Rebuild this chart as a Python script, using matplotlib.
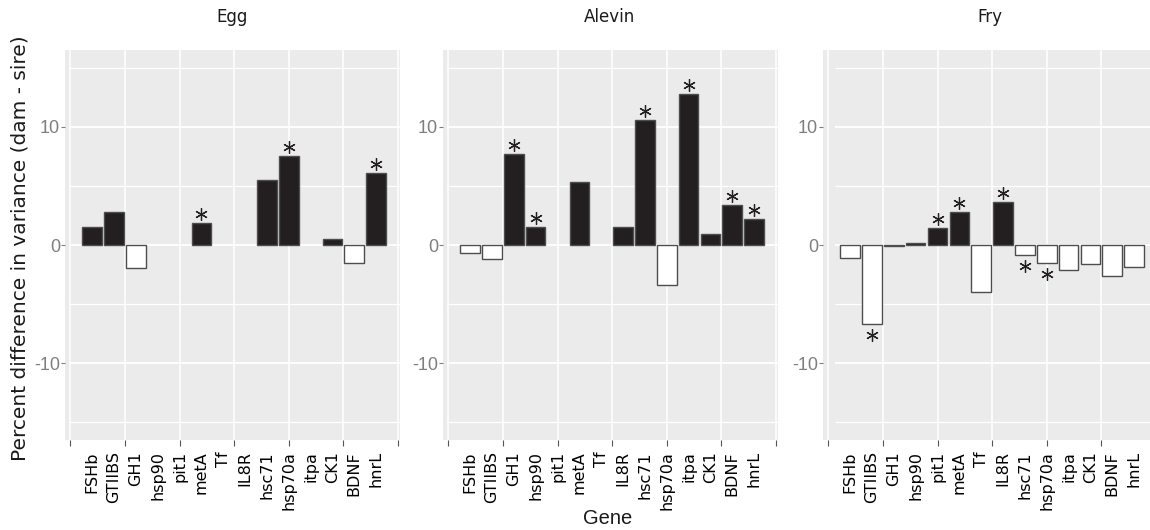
import numpy as np
import matplotlib
matplotlib.use('Agg')
from matplotlib import pyplot as plt

# Datos: diferencia porcentual en la varianza (dam - sire) por gen y etapa
genes = ['FSHb', 'GTIIBS', 'GH1', 'hsp90', 'pit1', 'metA', 'Tf', 'IL8R',
         'hsc71', 'hsp70a', 'itpa', 'CK1', 'BDNF', 'hnrL']
stages = ['Egg', 'Alevin', 'Fry']

egg = [1.55, 2.8, -1.97, 0, 0, 1.89, 0, 0, 5.49, 7.52, 0, 0.51, -1.55, 6.08]
alevin = [-0.65, -1.16, 7.67, 1.53, 0, 5.37, 0, 1.53, 10.6, -3.41, 12.78, 0.94, 3.41, 2.22]
fry = [-1.07, -6.72, -0.1, 0.14, 1.44, 2.8, -3.95, 3.64, -0.88, -1.53, -2.12, -1.58, -2.63, -1.86]

egg_sig = [0, 0, 0, 0, 0, 1, 0, 0, 0, 1, 0, 0, 0, 1]
alevin_sig = [0, 0, 1, 1, 0, 0, 0, 0, 1, 0, 1, 0, 1, 1]
fry_sig = [0, 1, 0, 0, 1, 1, 0, 1, 1, 1, 0, 0, 0, 0]

values = [egg, alevin, fry]
sigs = [egg_sig, alevin_sig, fry_sig]

W, H = 1150, 530
fig = plt.figure(figsize=(W / 100, H / 100), dpi=100)
fig.patch.set_facecolor('white')

lefts = [65, 443, 823]          # posición izquierda de cada panel (px)
hstart = [-1.05, -1.05, -0.69]  # inicio de las líneas horizontales
x = np.arange(len(genes))

for k, stage in enumerate(stages):
    ax = fig.add_axes([lefts[k] / W, 90 / H, 335 / W, 390 / H])
    ax.set_facecolor('#EBEBEB')
    for s in ax.spines.values():
        s.set_visible(False)
    ax.set_xlim(-1.24, 14.09)
    ax.set_ylim(-16.5, 16.5)

    # rejilla
    for gx in np.arange(-1, 14.1, 2.5):
        ax.axvline(gx, color='white', lw=1.1, zorder=0)
    for gy in [-15, -10, -5, 0, 5, 10, 15]:
        ax.hlines(gy, hstart[k], 14.09, color='white',
                  lw=1.3 if gy % 10 == 0 else 0.9, zorder=0)

    v = np.array(values[k])
    sig = np.array(sigs[k], dtype=bool)
    nz = v != 0
    cols = np.where(v > 0, '#231F20', 'white')
    ax.bar(x[nz], v[nz], width=0.9, color=cols[nz], edgecolor='#4d4d4d',
           linewidth=1.0, zorder=2)

    # asteriscos de significación
    ys = np.where(v > 0, v + 0.75, v - 0.9)
    ax.plot(x[sig], ys[sig], linestyle='None', marker=(6, 2, 0),
            markersize=9, markeredgewidth=0.9, color='#231F20', zorder=3)

    # ejes
    ax.xaxis.remove_overlapping_locs = False
    ax.set_xticks(np.arange(-1, 14.1, 2.5))
    ax.set_xticklabels([])
    ax.tick_params(axis='x', which='major', length=4, color='#555555', width=0.8)
    ax.set_xticks(x, minor=True)
    ax.set_xticklabels(genes, minor=True, rotation=90, fontsize=11.5,
                       family='DejaVu Sans')
    ax.tick_params(axis='x', which='minor', length=0, pad=8, labelcolor='black')

    ax.set_yticks([-10, 0, 10])
    ax.set_yticklabels(['-10', '0', '10'], family='Liberation Sans', fontsize=13)
    ax.tick_params(axis='y', length=3, color='#7f7f7f', labelcolor='#7f7f7f',
                   pad=0.5, width=0.8)

    fig.text((lefts[k] + 167) / W, 1 - 17 / H, stage, ha='center', va='center',
             fontsize=12, family='DejaVu Sans', color='#1a1a1a')

fig.text(20 / W, 1 - 248 / H, 'Percent difference in variance (dam - sire)',
         rotation=90, ha='center', va='center', fontsize=14.5,
         family='DejaVu Sans', color='#1a1a1a')
fig.text(608 / W, 1 - 519 / H, 'Gene', ha='center', va='center', fontsize=14.5,
         family=['Liberation Sans Narrow', 'Liberation Sans'], color='#1a1a1a')

plt.savefig('out.png', dpi=100)
